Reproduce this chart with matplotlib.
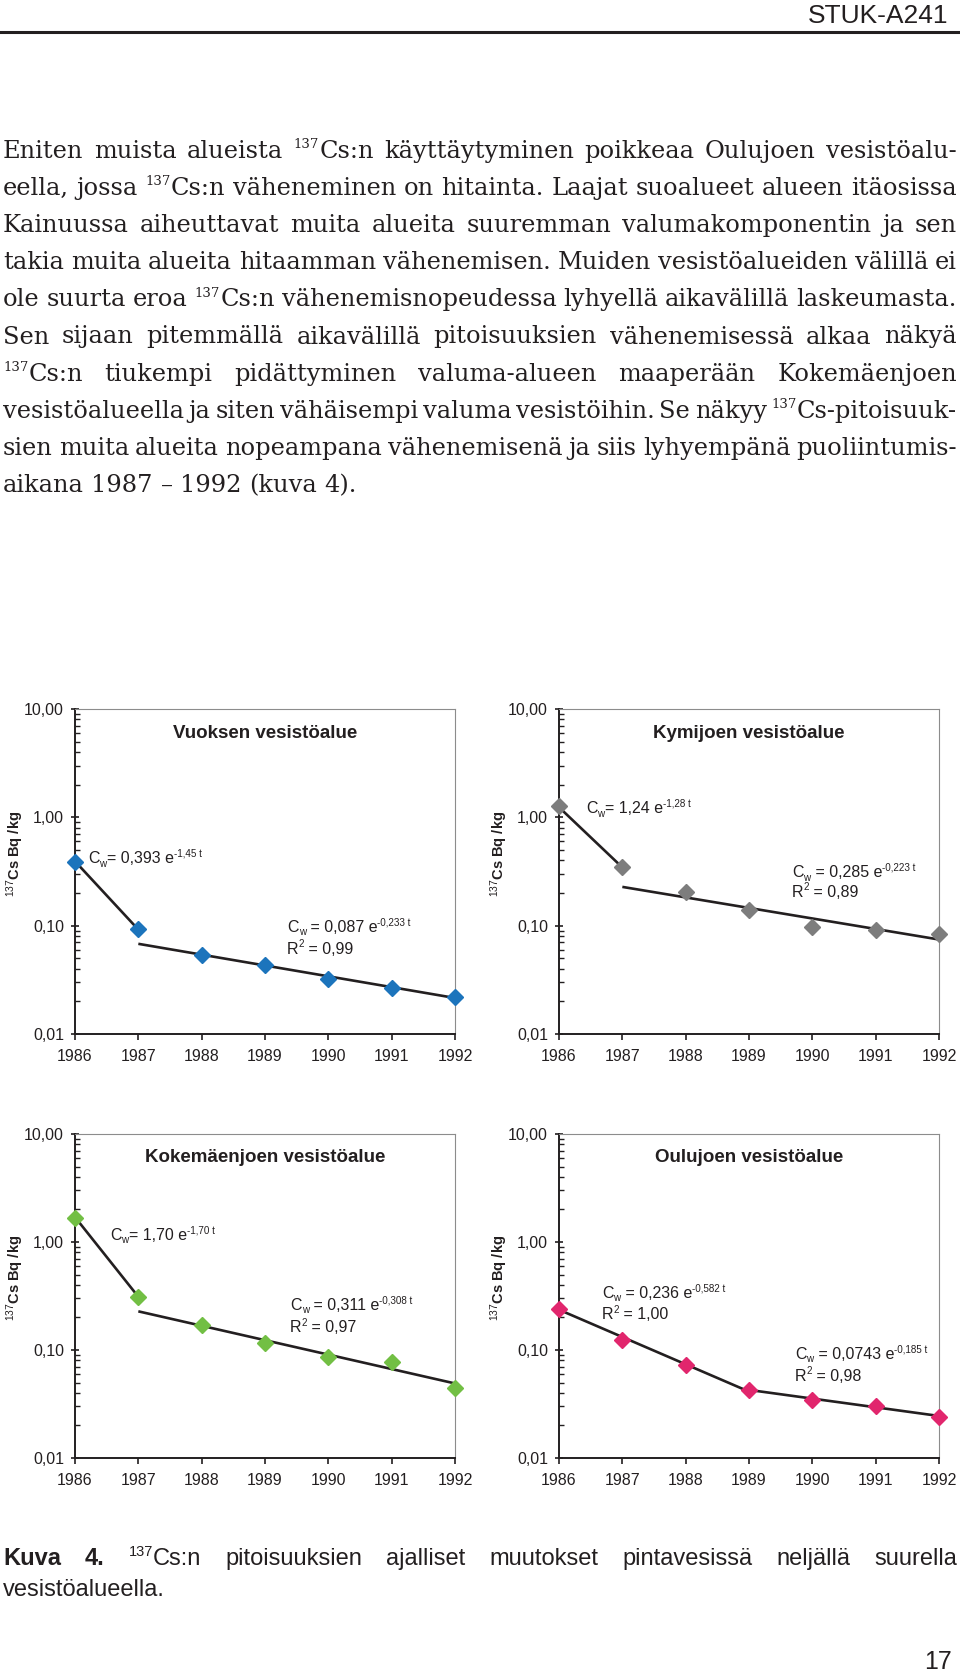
import numpy as np
import matplotlib
matplotlib.use("Agg")
import matplotlib.pyplot as plt
from matplotlib.transforms import IdentityTransform
from matplotlib.ticker import LogLocator, NullFormatter
from matplotlib.lines import Line2D

plt.rcParams['font.family'] = ['Liberation Sans', 'DejaVu Sans']
plt.rcParams['mathtext.fontset'] = 'custom'
plt.rcParams['mathtext.rm'] = 'Liberation Sans'
plt.rcParams['mathtext.it'] = 'Liberation Sans:italic'
plt.rcParams['mathtext.bf'] = 'Liberation Sans:bold'

W, H = 960, 1672
INK = '#231f20'
PT = 100 / 72

# ---- chart data ----
years = [1986, 1987, 1988, 1989, 1990, 1991, 1992]
ytick_vals = [0.01, 0.1, 1, 10]
ytick_labels = ['0,01', '0,10', '1,00', '10,00']

vuoksi = [0.383, 0.0927, 0.0537, 0.0434, 0.0322, 0.0268, 0.0221]
kymi = [1.26, 0.347, 0.204, 0.140, 0.0967, 0.0914, 0.0834]
kokemaki = [1.67, 0.308, 0.169, 0.116, 0.0855, 0.0769, 0.0445]
oulu = [0.240, 0.125, 0.0728, 0.0425, 0.0346, 0.0300, 0.0238]

# fitted lines: end points (straight lines on the log axis)
vuoksi_fits = [([1986, 1987], [0.393, 0.092]), ([1987, 1992], [0.068, 0.0215])]
kymi_fits = [([1986, 1987], [1.24, 0.345]), ([1987, 1992], [0.228, 0.0745])]
kokemaki_fits = [([1986, 1987], [1.70, 0.311]), ([1987, 1992], [0.228, 0.049])]
oulu_fits = [([1986, 1989], [0.236, 0.0412]), ([1989, 1992], [0.0427, 0.0245])]

titles = ['Vuoksen vesistöalue', 'Kymijoen vesistöalue',
          'Kokemäenjoen vesistöalue', 'Oulujoen vesistöalue']
colors = ['#1c74bc', '#7d7d7d', '#72bf44', '#e1266d']

# equation labels: (axes x, axes y baseline, runs)
eq_vuoksi = [(0.034, 0.526, [('C', 'n'), ('w', 'sub'), ('= 0,393 e', 'n'), ('-1,45 t', 'sup')]),
             (0.558, 0.314, [('C', 'n'), ('w', 'sub'), (' = 0,087 e', 'n'), ('-0,233 t', 'sup')]),
             (0.558, 0.247, [('R', 'n'), ('2', 'sup'), (' = 0,99', 'n')])]
eq_kymi = [(0.071, 0.680, [('C', 'n'), ('w', 'sub'), ('= 1,24 e', 'n'), ('-1,28 t', 'sup')]),
           (0.613, 0.483, [('C', 'n'), ('w', 'sub'), (' = 0,285 e', 'n'), ('-0,223 t', 'sup')]),
           (0.613, 0.422, [('R', 'n'), ('2', 'sup'), (' = 0,89', 'n')])]
eq_kokemaki = [(0.092, 0.673, [('C', 'n'), ('w', 'sub'), ('= 1,70 e', 'n'), ('-1,70 t', 'sup')]),
               (0.566, 0.457, [('C', 'n'), ('w', 'sub'), (' = 0,311 e', 'n'), ('-0,308 t', 'sup')]),
               (0.566, 0.389, [('R', 'n'), ('2', 'sup'), (' = 0,97', 'n')])]
eq_oulu = [(0.113, 0.494, [('C', 'n'), ('w', 'sub'), (' = 0,236 e', 'n'), ('-0,582 t', 'sup')]),
           (0.113, 0.429, [('R', 'n'), ('2', 'sup'), (' = 1,00', 'n')]),
           (0.621, 0.306, [('C', 'n'), ('w', 'sub'), (' = 0,0743 e', 'n'), ('-0,185 t', 'sup')]),
           (0.621, 0.238, [('R', 'n'), ('2', 'sup'), (' = 0,98', 'n')])]

body = [
    "Eniten muista alueista ^137Cs:n käyttäytyminen poikkeaa Oulujoen vesistöalu-",
    "eella, jossa ^137Cs:n väheneminen on hitainta. Laajat suoalueet alueen itäosissa",
    "Kainuussa aiheuttavat muita alueita suuremman valumakomponentin ja sen",
    "takia muita alueita hitaamman vähenemisen. Muiden vesistöalueiden välillä ei",
    "ole suurta eroa ^137Cs:n vähenemisnopeudessa lyhyellä aikavälillä laskeumasta.",
    "Sen sijaan pitemmällä aikavälillä pitoisuuksien vähenemisessä alkaa näkyä",
    "^137Cs:n tiukempi pidättyminen valuma-alueen maaperään Kokemäenjoen",
    "vesistöalueella ja siten vähäisempi valuma vesistöihin. Se näkyy ^137Cs-pitoisuuk-",
    "sien muita alueita nopeampana vähenemisenä ja siis lyhyempänä puoliintumis-",
    "aikana 1987 – 1992 (kuva 4).",
]
caption = [
    "*Kuva *4. ^137Cs:n pitoisuuksien ajalliset muutokset pintavesissä neljällä suurella",
    "vesistöalueella.",
]

fig = plt.figure(figsize=(W / 100, H / 100), dpi=100)
fig.patch.set_facecolor('white')
renderer = fig.canvas.get_renderer()


def make_runs(runs, size, family, color=INK, sup_scale=0.62):
    arts, x = [], 0.0
    for s, kind in runs:
        small = kind in ('sup', 'sub')
        fs = size * sup_scale if small else size
        dy = {'sup': 0.40, 'sub': -0.22}.get(kind, 0.0) * size * PT
        t = fig.text(0, 0, s, transform=IdentityTransform(), fontsize=fs,
                     family=family, weight='bold' if kind == 'b' else 'normal',
                     color=color, va='baseline', ha='left')
        arts.append((t, x, dy))
        x += t.get_window_extent(renderer).width
    return arts, x


def place(arts, x, y):
    for t, dx, dy in arts:
        t.set_position((x + dx, y + dy))


def space_width(size, family):
    a = fig.text(0, 0, 'n n', fontsize=size, family=family, transform=IdentityTransform())
    b = fig.text(0, 0, 'nn', fontsize=size, family=family, transform=IdentityTransform())
    w = a.get_window_extent(renderer).width - b.get_window_extent(renderer).width
    a.remove()
    b.remove()
    return w


def parse(word):
    if word.startswith('*'):
        return [(word[1:], 'b')]
    if word.startswith('^137'):
        return [('137', 'sup'), (word[4:], 'n')]
    return [(word, 'n')]


def text_line(line, ybase, size, family, justify=True, x0=3, x1=957, sup_scale=0.62):
    words = [make_runs(parse(w), size, family, sup_scale=sup_scale) for w in line.split()]
    total = sum(w for _, w in words)
    if justify and len(words) > 1:
        gap = (x1 - x0 - total) / (len(words) - 1)
    else:
        gap = space_width(size, family)
    x = x0
    for arts, w in words:
        place(arts, x, H - ybase)
        x += w + gap


# ---- page header ----
fig.text(948, H - 23, 'STUK-A241', transform=IdentityTransform(), fontsize=19,
         family='Liberation Sans', color=INK, ha='right', va='baseline')
fig.add_artist(Line2D([0, 958], [H - 32, H - 32], transform=IdentityTransform(),
                      color=INK, lw=2.2))

# ---- body text ----
for i, line in enumerate(body):
    text_line(line, 158 + 37.1 * i, 17.4, 'DejaVu Serif',
              justify=(i < len(body) - 1), sup_scale=0.55)

# ---- charts ----
boxes = [(75, 455, 709, 1034), (559, 939, 709, 1034),
         (75, 455, 1134, 1458), (559, 939, 1134, 1458)]
series = [vuoksi, kymi, kokemaki, oulu]
fits = [vuoksi_fits, kymi_fits, kokemaki_fits, oulu_fits]
eqs = [eq_vuoksi, eq_kymi, eq_kokemaki, eq_oulu]

for (l, r, t, b), vals, fl, eq, title, c in zip(boxes, series, fits, eqs, titles, colors):
    ax = fig.add_axes([l / W, 1 - b / H, (r - l) / W, (b - t) / H])
    ax.set_yscale('log')
    ax.set_xlim(1986, 1992)
    ax.set_ylim(0.01, 10)
    ax.set_xticks(years)
    ax.set_xticklabels([str(y) for y in years])
    ax.set_yticks(ytick_vals)
    ax.set_yticklabels(ytick_labels)
    ax.yaxis.set_minor_locator(LogLocator(base=10, subs=np.arange(2, 10)))
    ax.yaxis.set_minor_formatter(NullFormatter())
    ax.tick_params(axis='y', which='major', direction='inout', length=6, width=1.2,
                   pad=5, labelsize=11.5, colors=INK)
    ax.tick_params(axis='y', which='minor', direction='in', length=3.5, width=1.0, color=INK)
    ax.tick_params(axis='x', which='major', direction='out', length=4, width=1.2,
                   pad=6.5, labelsize=11.5, colors=INK)
    for s in ('left', 'bottom'):
        ax.spines[s].set_linewidth(1.4)
        ax.spines[s].set_color(INK)
    for s in ('top', 'right'):
        ax.spines[s].set_linewidth(0.8)
        ax.spines[s].set_color('#8c8c8c')

    for xs, ys in fl:
        ax.plot(xs, ys, color=INK, lw=1.9, solid_capstyle='butt', clip_on=False, zorder=3)
    ax.plot(years, vals, 'D', color=c, ms=8, mec=c, clip_on=False, zorder=4)

    ax.text(0.5, 0.926, title, transform=ax.transAxes, ha='center', va='center',
            fontsize=13.5, weight='bold', color=INK)
    ax.text(-0.158, 0.555, r'$^{137}$Cs Bq /kg', transform=ax.transAxes, rotation=90,
            ha='center', va='center', fontsize=10.5, weight='bold', color=INK)

    for fx, fy, runs in eq:
        px, py = ax.transAxes.transform((fx, fy))
        arts, _ = make_runs(runs, 11.5, 'Liberation Sans')
        place(arts, px, py)

# ---- caption and page number ----
text_line(caption[0], 1565, 17, 'Liberation Sans', justify=True)
text_line(caption[1], 1596, 17, 'Liberation Sans', justify=False)
fig.text(952, H - 1669, '17', transform=IdentityTransform(), fontsize=18,
         family='Liberation Sans', color=INK, ha='right', va='baseline')

fig.savefig('out.png', dpi=100)
